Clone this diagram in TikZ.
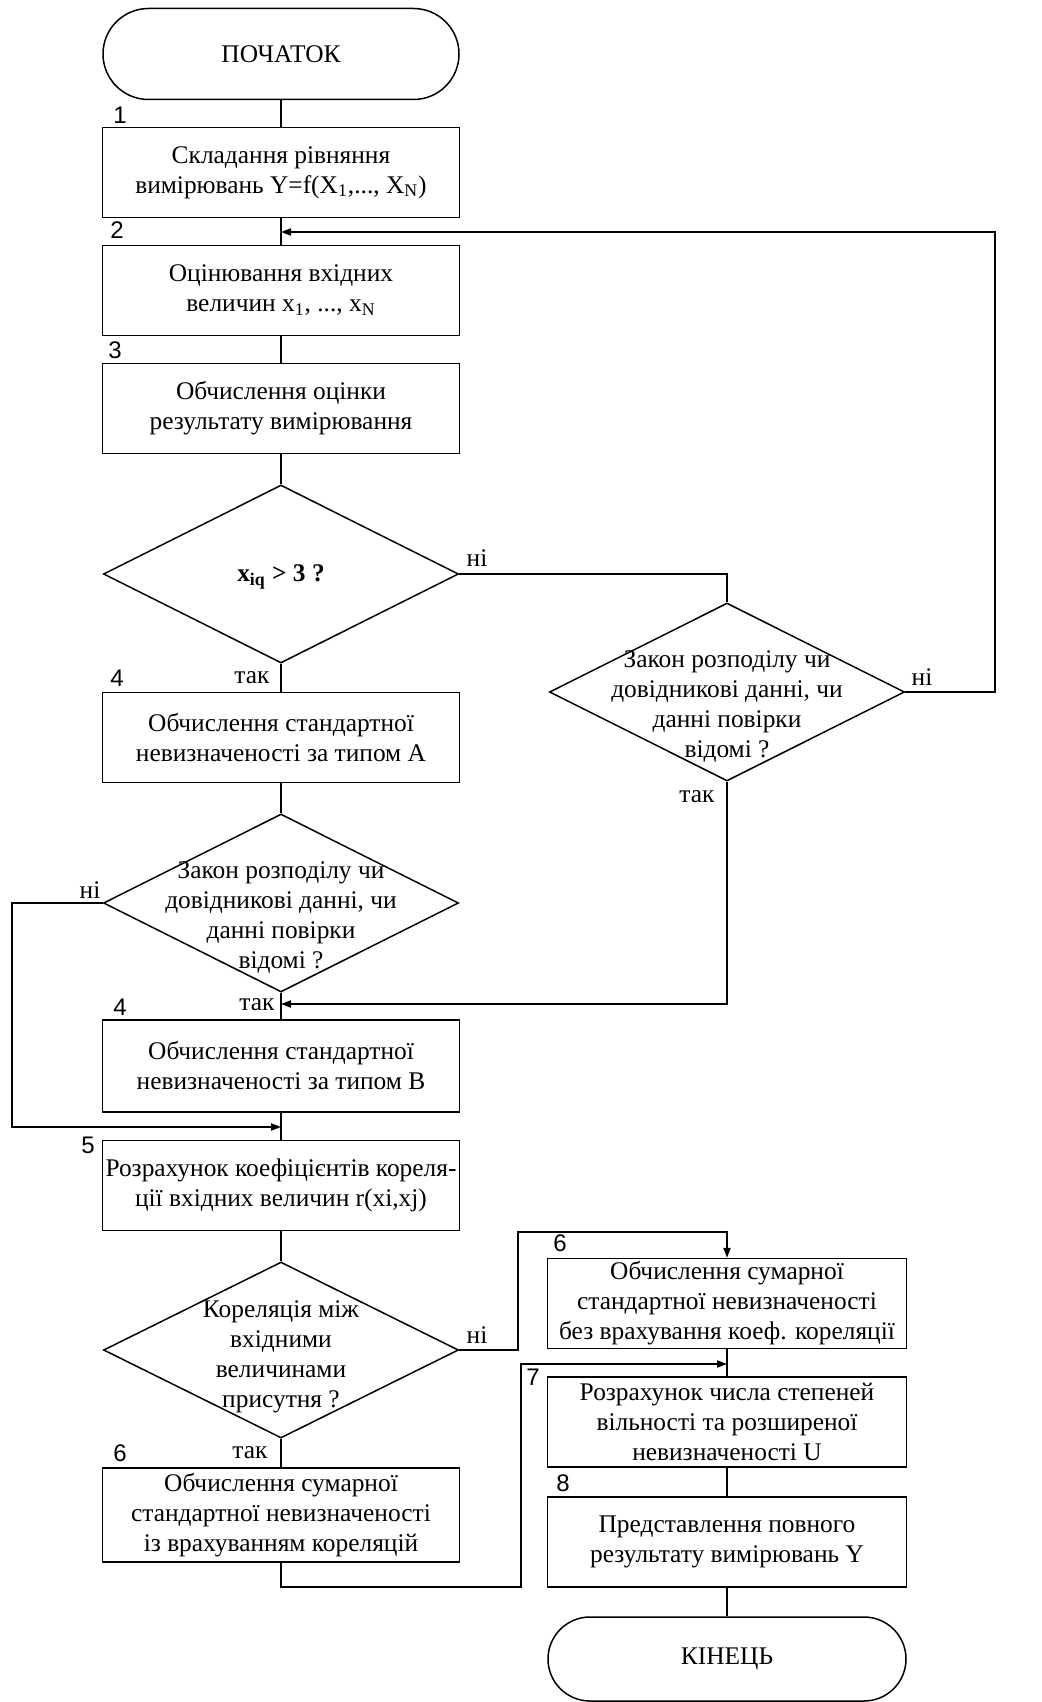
\documentclass[tikz,border=0pt]{standalone}
\usepackage{fontspec}
\setmainfont{Liberation Serif}
\newfontfamily\numfont{Liberation Sans}
\usepackage{tikz}
\usetikzlibrary{arrows.meta,shapes.geometric,shapes.misc}
\tikzstyle{every picture}+=[line width=0.75pt]
\tikzstyle{blk}=[draw, rectangle, minimum width=178.5pt, minimum height=45pt, inner sep=0pt, align=center]
\tikzstyle{term}=[draw, rounded rectangle, minimum width=178pt, minimum height=45.5pt, inner sep=0pt]
\tikzstyle{cond}=[draw, diamond, minimum width=177.5pt, minimum height=89pt, inner sep=0pt]
\tikzstyle{ctext}=[align=center, inner sep=0pt]
\tikzstyle{num}=[font=\numfont\fontsize{12}{14}\selectfont, inner sep=0pt]
\tikzstyle{lbl}=[inner sep=0pt]
\tikzstyle{arr}=[-{Triangle[length=5pt,width=3.6pt]}]

\begin{document}
\begin{tikzpicture}
		[x=0.5pt, y=-0.5pt, font=\fontsize{12.7}{15}\selectfont]
		
		\useasboundingbox (0, 0) rectangle (1041, 1702);
		
		% left column --------------------------------------------
		\node[term] (start) at (281, 54) {ПОЧАТОК};
		\node[blk] (b1) at (281, 172.5) {Складання рівняння\\вимірювань Y=f(X\textsubscript{1},..., X\textsubscript{N})};
		\node[blk] (b2) at (281, 290.5) {Оцінювання вхідних\\величин x\textsubscript{1}, ..., x\textsubscript{N}};
		\node[blk] (b3) at (281, 408.5) {Обчислення оцінки\\результату вимірювання};
		\node[cond] (q1) at (281, 574) {};
		\node[ctext] (q1t) at (281, 577) {\bfseries x\textsubscript{iq} > 3 ?};
		\node[blk] (b4a) at (281, 737.5) {Обчислення стандартної\\невизначеності за типом А};
		\node[cond] (q3) at (281, 903) {};
		\node[ctext] (q3t) at (281, 918) {Закон розподілу чи\\довідникові данні, чи\\данні повірки\\відомі ?};
		\node[blk, minimum height=46pt] (b4b) at (281, 1066) {Обчислення стандартної\\невизначеності за типом В};
		\node[blk] (b5) at (281, 1185.5) {Розрахунок коефіцієнтів кореля-\\ції вхідних величин r(xi,xj)};
		\node[cond, minimum height=88pt] (q4) at (281, 1350) {};
		\node[ctext] (q4t) at (281, 1357) {Кореляція між\\вхідними\\величинами\\присутня ?};
		\node[blk, minimum height=47pt] (b6l) at (281, 1515) {Обчислення сумарної\\стандартної невизначеності\\із врахуванням кореляцій};
		
		% right column -------------------------------------------
		\node[cond] (q2) at (727, 692) {};
		\node[ctext] (q2t) at (727, 707) {Закон розподілу чи\\довідникові данні, чи\\данні повірки\\відомі ?};
		\node[blk, minimum width=179.5pt] (b6r) at (727, 1303.5) {Обчислення сумарної\\стандартної невизначеності\\без врахування коеф. кореляції};
		\node[blk, minimum width=179.5pt] (b7) at (727, 1422) {Розрахунок числа степеней\\вільності та розширеної\\невизначеності U};
		\node[blk, minimum width=179.5pt] (b8) at (727, 1542) {Представлення повного\\результату вимірювань Y};
		\node[term, minimum width=179pt, minimum height=42pt] (end) at (727, 1659) {КІНЕЦЬ};
		
		% joints -------------------------------------------------
		\coordinate (j2) at (281, 232);
		\coordinate (rt) at (995, 232);
		\coordinate (j4) at (281, 1004);
		\coordinate (lt) at (12, 1127);
		\coordinate (j5) at (281, 1127);
		\coordinate (rb) at (518, 1232);
		\coordinate (lb) at (521, 1587);
		\coordinate (j7) at (727, 1364);
		
		% connectors ---------------------------------------------
		\draw (start.south) -- (b1.north);
		\draw (b1.south) -- (b2.north);
		\draw (b2.south) -- (b3.north);
		\draw (b3.south) -- (q1.north);
		\draw (q1.south) -- (b4a.north);
		\draw (b4a.south) -- (q3.north);
		\draw (q3.south) -- (b4b.north);
		\draw (b4b.south) -- (b5.north);
		\draw (b5.south) -- (q4.north);
		\draw (q4.south) -- (b6l.north);
		\draw (b6r.south) -- (b7.north);
		\draw (b7.south) -- (b8.north);
		\draw (b8.south) -- (end.north);
		
		\draw (q1.east) -| (q2.north);
		\draw[arr] (q2.east) -| (rt) -- (j2);
		\draw[arr] (q2.south) |- (j4);
		\draw[arr] (q3.west) -| (lt) -- (j5);
		\draw[arr] (q4.east) -| (rb) -| (b6r.north);
		\draw[arr] (b6l.south) |- (lb) |- (j7);
		
		% yes / no -----------------------------------------------
		\node[lbl] (n1) at (477, 558) {ні};
		\node[lbl] (y1) at (252, 678) {так};
		\node[lbl] (n2) at (922, 677) {ні};
		\node[lbl] (y2) at (697, 797) {так};
		\node[lbl] (n3) at (90, 890) {ні};
		\node[lbl] (y3) at (257, 1005) {так};
		\node[lbl] (n4) at (477, 1335) {ні};
		\node[lbl] (y4) at (250, 1453) {так};
		
		% block numbers ------------------------------------------
		\node[num] (k1) at (120, 115) {1};
		\node[num] (k2) at (117, 230) {2};
		\node[num] (k3) at (115, 350) {3};
		\node[num] (k4a) at (117, 678) {4};
		\node[num] (k4b) at (120, 1007) {4};
		\node[num] (k5) at (88, 1145) {5};
		\node[num] (k6l) at (120, 1453) {6};
		\node[num] (k6r) at (560, 1243) {6};
		\node[num] (k7) at (533, 1377) {7};
		\node[num] (k8) at (563, 1483) {8};
\end{tikzpicture}
\end{document}
